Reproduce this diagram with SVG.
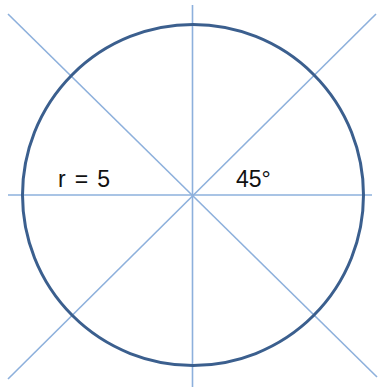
<svg xmlns="http://www.w3.org/2000/svg" width="378" height="387" viewBox="0 0 378 387">
<style>
.ln{stroke:#8DB0DC;stroke-width:1.6;fill:none}
.circ{stroke:#3B5F8E;stroke-width:3;fill:none}
.t{font-family:"Liberation Sans","DejaVu Sans",sans-serif;font-size:23px;fill:#111}
</style>
<rect width="378" height="387" fill="#fff"/>
<g id="connectors">
<line class="ln" x1="8" y1="195" x2="372" y2="195"/>
<line class="ln" x1="192.5" y1="5" x2="192.5" y2="387"/>
<line class="ln" x1="8" y1="14" x2="377" y2="377"/>
<line class="ln" x1="376" y1="14" x2="8" y2="379"/>
</g>
<g id="circle">
<circle class="circ" cx="193" cy="195" r="170.5"/>
</g>
<g id="label-r"><text class="t" x="58" y="186.5" textLength="52" lengthAdjust="spacing">r = 5</text></g>
<g id="label-angle"><text class="t" x="236" y="186.5">45°</text></g>
</svg>
